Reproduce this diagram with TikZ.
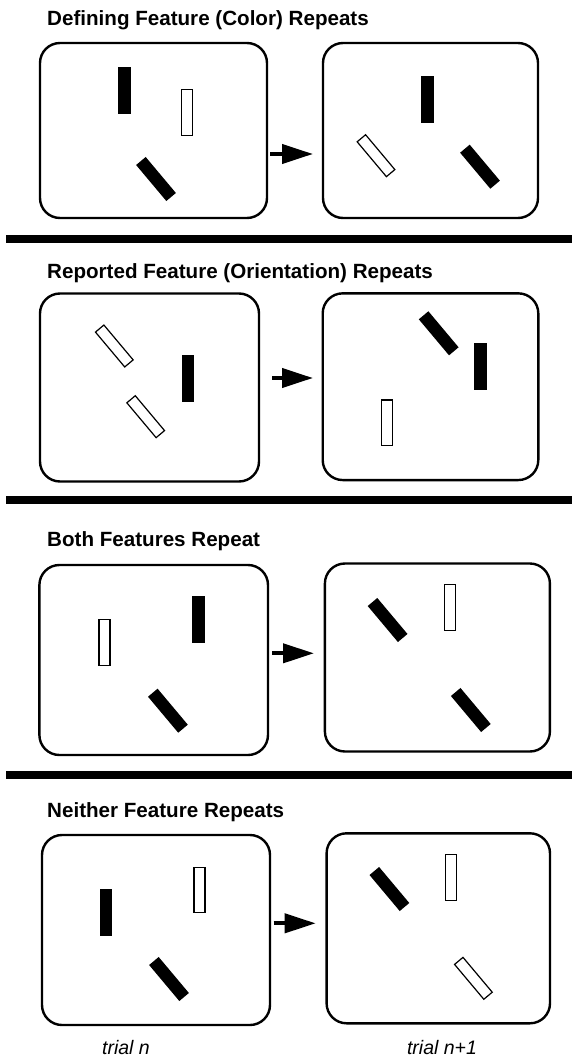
\documentclass[tikz,border=0pt]{standalone}
\usepackage{fontspec}
\setmainfont{Liberation Sans}
\usetikzlibrary{arrows.meta}
\begin{document}
\begin{tikzpicture}[x=1pt,y=-1pt,
  panel/.style={draw, line width=2.4pt, rounded corners=20pt, inner sep=0pt},
  solidbar/.style={fill=black, minimum width=12.5pt, minimum height=47pt, inner sep=0pt},
  hollowbar/.style={draw=black, fill=white, line width=1.2pt, minimum width=11pt, minimum height=45.5pt, inner sep=0pt},
  tilt/.style={rotate=40},
  heading/.style={anchor=base west, inner sep=0pt, font=\bfseries\fontsize{20.6}{24}\selectfont},
  trialtext/.style={anchor=base, inner sep=0pt, font=\itshape\fontsize{19.5}{22}\selectfont},
  trialarrow/.style={line width=4pt, -{Triangle[length=31pt,width=19pt]}},
  divider/.style={line width=8pt}]

\useasboundingbox[fill=white] (0,0) rectangle (572,1056);

% ---------- Defining Feature (Color) Repeats ----------
\node[heading] (t1) at (47,26) {Defining Feature (Color) Repeats};
\node[panel, minimum width=227pt, minimum height=175pt] (L1) at (153.5,130.5) {};
\node[panel, minimum width=215pt, minimum height=175pt] (R1) at (430.5,130.5) {};
\node[solidbar] (L1a) at (124.5,90.5) {};
\node[hollowbar] (L1b) at (187,112.5) {};
\node[solidbar, tilt] (L1c) at (156,179) {};
\node[solidbar] (R1a) at (427.7,99.5) {};
\node[hollowbar, tilt] (R1b) at (376,155.7) {};
\node[solidbar, tilt] (R1c) at (480,166.7) {};
\coordinate (a1s) at (270,154);
\coordinate (a1e) at (313,154);
\draw[trialarrow] (a1s) -- (a1e);
\coordinate (d1s) at (6,239);
\coordinate (d1e) at (572,239);
\draw[divider] (d1s) -- (d1e);

% ---------- Reported Feature (Orientation) Repeats ----------
\node[heading] (t2) at (47,279) {Reported Feature (Orientation) Repeats};
\node[panel, minimum width=219pt, minimum height=188pt] (L2) at (149.5,387.5) {};
\node[panel, minimum width=215.6pt, minimum height=186.7pt] (R2) at (430.5,386.7) {};
\node[hollowbar, tilt] (L2a) at (114.3,346) {};
\node[hollowbar, tilt] (L2b) at (145.7,416.7) {};
\node[solidbar] (L2c) at (188,378.7) {};
\node[solidbar, tilt] (R2a) at (438.7,333.3) {};
\node[solidbar] (R2b) at (480.7,366.7) {};
\node[hollowbar] (R2c) at (387,422.7) {};
\coordinate (a2s) at (272,378);
\coordinate (a2e) at (313,378);
\draw[trialarrow] (a2s) -- (a2e);
\coordinate (d2s) at (6,500);
\coordinate (d2e) at (572,500);
\draw[divider] (d2s) -- (d2e);

% ---------- Both Features Repeat ----------
\node[heading] (t3) at (47,546) {Both Features Repeat};
\node[panel, minimum width=228.6pt, minimum height=190pt] (L3) at (153.7,660) {};
\node[panel, minimum width=225pt, minimum height=188pt] (R3) at (437.4,657.5) {};
\node[hollowbar] (L3a) at (104.5,642.5) {};
\node[solidbar] (L3b) at (198.7,619.7) {};
\node[solidbar, tilt] (L3c) at (167.9,710.7) {};
\node[solidbar, tilt] (R3a) at (387.6,620) {};
\node[hollowbar] (R3b) at (450,607.5) {};
\node[solidbar, tilt] (R3c) at (470.8,710) {};
\coordinate (a3s) at (272,653.3);
\coordinate (a3e) at (314,653.3);
\draw[trialarrow] (a3s) -- (a3e);
\coordinate (d3s) at (6,775);
\coordinate (d3e) at (572,775);
\draw[divider] (d3s) -- (d3e);

% ---------- Neither Feature Repeats ----------
\node[heading] (t4) at (47,817) {Neither Feature Repeats};
\node[panel, minimum width=228pt, minimum height=190pt] (L4) at (156,930) {};
\node[panel, minimum width=223.4pt, minimum height=190pt] (R4) at (438.3,928.3) {};
\node[solidbar] (L4a) at (105.8,912.5) {};
\node[hollowbar] (L4b) at (199.5,890) {};
\node[solidbar, tilt] (L4c) at (169,979) {};
\node[solidbar, tilt] (R4a) at (389.4,889) {};
\node[hollowbar] (R4b) at (451.3,877.5) {};
\node[hollowbar, tilt] (R4c) at (473.4,978.3) {};
\coordinate (a4s) at (273.7,923.3);
\coordinate (a4e) at (315.7,923.3);
\draw[trialarrow] (a4s) -- (a4e);

\node[trialtext] (n0) at (126,1054) {trial n};
\node[trialtext] (n1) at (442,1054) {trial n+1};
\end{tikzpicture}
\end{document}
